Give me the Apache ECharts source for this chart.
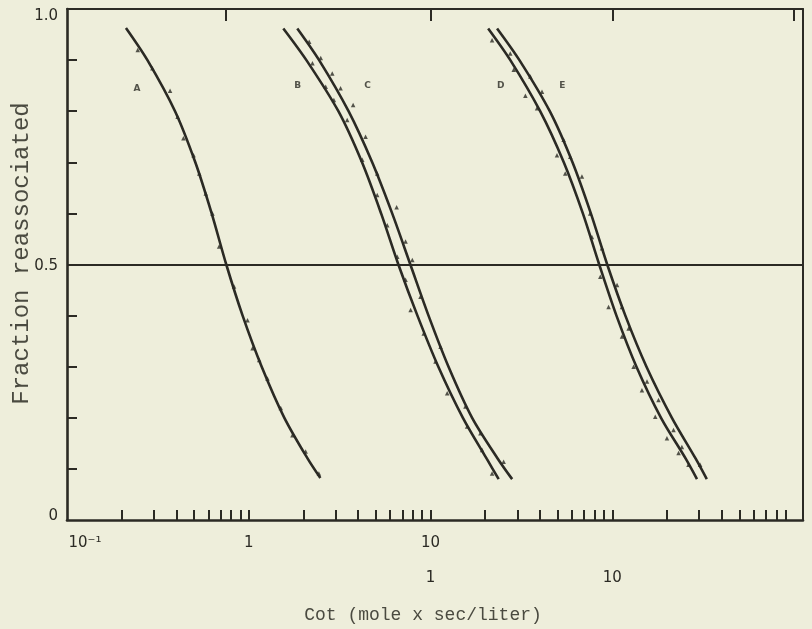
<!DOCTYPE html>
<html><head><meta charset="utf-8">
<script src="https://cdn.jsdelivr.net/npm/echarts@6/dist/echarts.min.js"></script>
<style>html,body{margin:0;padding:0;background:#eeeedb;}#c{width:812px;height:629px;}</style>
</head><body><div id="c"></div>
<script>
// ---- curve lines (Cot, fraction reassociated) ----
const aLineX = [0.211,0.277,0.393,0.508,0.625,0.752,0.925,1.178,1.570,2.109,2.477];
const aLineY = [0.963,0.9,0.8,0.7,0.6,0.5,0.4,0.3,0.2,0.12,0.082];
const bLineX = [1.549,2.075,3.112,4.198,5.346,6.653,8.472,11.04,15.07,20.37,23.71];
const bLineY = [0.962,0.9,0.8,0.7,0.6,0.5,0.4,0.3,0.2,0.12,0.08];
const cLineX = [1.849,2.438,3.540,4.775,6.152,7.745,9.750,12.56,16.94,23.44,28.12];
const cLineY = [0.962,0.9,0.8,0.7,0.6,0.5,0.4,0.3,0.2,0.12,0.08];
const dLineX = [20.75,27.48,40.09,54.08,68.87,84.72,105.4,135.8,185.4,253.5,292.4];
const dLineY = [0.962,0.9,0.8,0.7,0.6,0.5,0.4,0.3,0.2,0.12,0.08];
const eLineX = [23.23,30.83,45.29,60.39,76.21,93.76,118.0,154.2,212.8,287.7,331.1];
const eLineY = [0.962,0.9,0.8,0.7,0.6,0.5,0.4,0.3,0.2,0.12,0.08];
// ---- measured points ----
const aPtsX = [0.245,0.295,0.369,0.406,0.437,0.497,0.534,0.580,0.631,0.687,0.830,0.984,1.049,1.141,1.267,1.500,1.739,2.056,2.43];
const aPtsY = [0.920,0.884,0.840,0.789,0.747,0.714,0.678,0.639,0.600,0.535,0.457,0.391,0.336,0.313,0.277,0.219,0.166,0.134,0.091];
const bPtsX = [2.24,2.65,2.94,3.48,4.21,5.09,5.78,6.56,7.29,7.77,9.18,10.65,12.35,15.90,19.23,21.81];
const bPtsY = [0.894,0.848,0.822,0.783,0.705,0.636,0.577,0.515,0.470,0.411,0.365,0.310,0.248,0.183,0.137,0.091];
const cPtsX = [2.15,2.49,2.88,3.20,3.75,4.39,5.09,6.51,7.29,7.94,8.81,11.36,15.56,18.82,25.24];
const cPtsY = [0.936,0.904,0.874,0.845,0.812,0.750,0.678,0.612,0.545,0.509,0.437,0.339,0.222,0.170,0.114];
const dPtsX = [21.81,28.70,33.25,38.55,49.62,55.10,77.2,85.9,95.4,113.1,131.0,145.6,172.3,199.8,231.5,262.6];
const dPtsY = [0.939,0.881,0.830,0.806,0.714,0.678,0.554,0.476,0.417,0.359,0.300,0.254,0.202,0.160,0.131,0.108];
const ePtsX = [27.45,35.41,41.05,53.98,58.71,68.06,75.6,87.8,106.2,113.1,123.0,155.2,179.5,217.2,241.5,304.2];
const ePtsY = [0.913,0.868,0.838,0.744,0.711,0.672,0.600,0.532,0.460,0.417,0.375,0.271,0.235,0.176,0.143,0.108];
// ---- curve labels ----
const curveNames = ['A','B','C','D','E'];
const curveLabelX = [0.243,1.86,4.51,24.3,53.1];
const curveLabelY = [0.845,0.85,0.85,0.85,0.85];
// ---- axes ----
const xMin = 0.1, xMax = 1120;
const xMinorTicks = [0.2,0.3,0.4,0.5,0.6,0.7,0.8,0.9,1,2,3,4,5,6,7,8,9,10,20,30,40,50,60,70,80,90,100,200,300,400,500,600,700,800,900];
const xTopTicks = [0.75,10,100,1000];
const xRow1Values = [0.1,1,10];
const xRow1Labels = ['10\u207B\u00B9','1','10'];
const xRow2Values = [10,100];
const xRow2Labels = ['1','10'];
const yTickValues = [0.1,0.2,0.3,0.4,0.6,0.7,0.8,0.9];
const yLabelValues = [0,0.5,1];
const yLabelTexts = ['0','0.5','1.0'];

const ink = '#2b2a24';
const zip = (xs, ys) => xs.map((x, i) => [x, ys[i]]);
const near = (a, b) => Math.abs(a - b) <= 1e-6 * Math.max(1, Math.abs(b));
const lookup = (vals, texts) => v => { const i = vals.findIndex(t => near(v, t)); return i < 0 ? '' : texts[i]; };

const lines = [[aLineX,aLineY],[bLineX,bLineY],[cLineX,cLineY],[dLineX,dLineY],[eLineX,eLineY]];
const pts = [[aPtsX,aPtsY],[bPtsX,bPtsY],[cPtsX,cPtsY],[dPtsX,dPtsY],[ePtsX,ePtsY]];

const series = [];
lines.forEach((l, i) => series.push({
  type: 'line', name: curveNames[i], data: zip(l[0], l[1]), smooth: 0.3, showSymbol: false,
  symbol: 'none', lineStyle: { color: ink, width: 2.6 }, z: 3,
  markLine: i === 0 ? { silent: true, symbol: 'none', label: { show: false },
    lineStyle: { color: ink, width: 2, type: 'solid' }, data: [{ yAxis: 0.5 }] } : undefined
}));
pts.forEach((p, i) => series.push({
  type: 'scatter', data: zip(p[0], p[1]), symbol: 'triangle', symbolSize: 4.5,
  itemStyle: { color: ink }, z: 4
}));
series.push({
  type: 'scatter', symbolSize: 0, z: 5,
  data: curveNames.map((n, i) => ({ name: n, value: [curveLabelX[i], curveLabelY[i]] })),
  label: { show: true, position: 'inside', formatter: '{b}', color: ink, fontSize: 9,
    fontWeight: 'bold', fontFamily: 'DejaVu Sans' }
});

const yFmt = v => {
  const t = lookup(yLabelValues, yLabelTexts)(v);
  if (near(v, 1)) return '{t|' + t + '}';
  if (near(v, 0)) return '{b|' + t + '}';
  return '{m|' + t + '}';
};
const labFont = { fontFamily: 'DejaVu Sans', fontSize: 15, color: '#2b2a24' };

const chart = echarts.init(document.getElementById('c'), null, { renderer: 'canvas' });
chart.setOption({
  backgroundColor: '#eeeedb',
  animation: false,
  grid: { left: 67, right: 9, top: 9, bottom: 109, containLabel: false, outerBoundsMode: 'none' },
  xAxis: [
    { type: 'log', min: xMin, max: xMax, position: 'bottom',
      name: 'Cot (mole x sec/liter)', nameLocation: 'middle', nameGap: 86,
      nameTextStyle: { fontFamily: 'Liberation Mono', fontSize: 18, color: '#4a4a40', padding: [0, 24, 0, 0] },
      axisLine: { onZero: false, lineStyle: { color: ink, width: 2.6 } },
      axisTick: { inside: true, length: 10, customValues: xMinorTicks, lineStyle: { color: ink, width: 2 } },
      axisLabel: { customValues: xRow1Values, formatter: v => {
          const t = lookup(xRow1Values, xRow1Labels)(v);
          return near(v, xRow1Values[0]) ? '{f|' + t + '}' : '{n|' + t + '}'; },
        margin: 16, color: '#2b2a24',
        rich: { f: Object.assign({ padding: [0,0,0,36] }, labFont), n: Object.assign({}, labFont) } },
      splitLine: { show: false }, minorSplitLine: { show: false } },
    { type: 'log', min: xMin, max: xMax, position: 'top',
      axisLine: { show: true, onZero: false, lineStyle: { color: ink, width: 1.8 } },
      axisTick: { show: true, inside: true, length: 12, customValues: xTopTicks, lineStyle: { color: ink, width: 2 } },
      axisLabel: { show: false }, splitLine: { show: false } },
    { type: 'log', min: xMin, max: xMax, position: 'bottom', offset: 35,
      axisLine: { show: false, onZero: false }, axisTick: { show: false },
      axisLabel: Object.assign({ customValues: xRow2Values, formatter: lookup(xRow2Values, xRow2Labels), margin: 16 }, labFont),
      splitLine: { show: false } }
  ],
  yAxis: [
    { type: 'value', min: 0, max: 1, interval: 0.1, position: 'left',
      name: 'Fraction reassociated', nameLocation: 'middle', nameGap: 33, nameRotate: 90,
      nameMoveOverlap: false,
      nameTextStyle: { fontFamily: 'Liberation Mono', fontSize: 24, color: '#4a4a40', padding: [0, 0, 0, 22] },
      axisLine: { show: true, onZero: false, lineStyle: { color: ink, width: 2.6 } },
      axisTick: { inside: true, length: 10, customValues: yTickValues, lineStyle: { color: ink, width: 2 } },
      axisLabel: { customValues: yLabelValues, formatter: yFmt, margin: 9,
        rich: { t: Object.assign({ padding: [14,0,0,0] }, labFont),
                m: Object.assign({ padding: [4,0,0,0] }, labFont),
                b: Object.assign({ padding: [0,0,8,0] }, labFont) } },
      splitLine: { show: false } },
    { type: 'value', min: 0, max: 1, position: 'right',
      axisLine: { show: true, onZero: false, lineStyle: { color: ink, width: 2 } },
      axisTick: { show: false }, axisLabel: { show: false }, splitLine: { show: false } }
  ],
  series: series
});
</script></body></html>
